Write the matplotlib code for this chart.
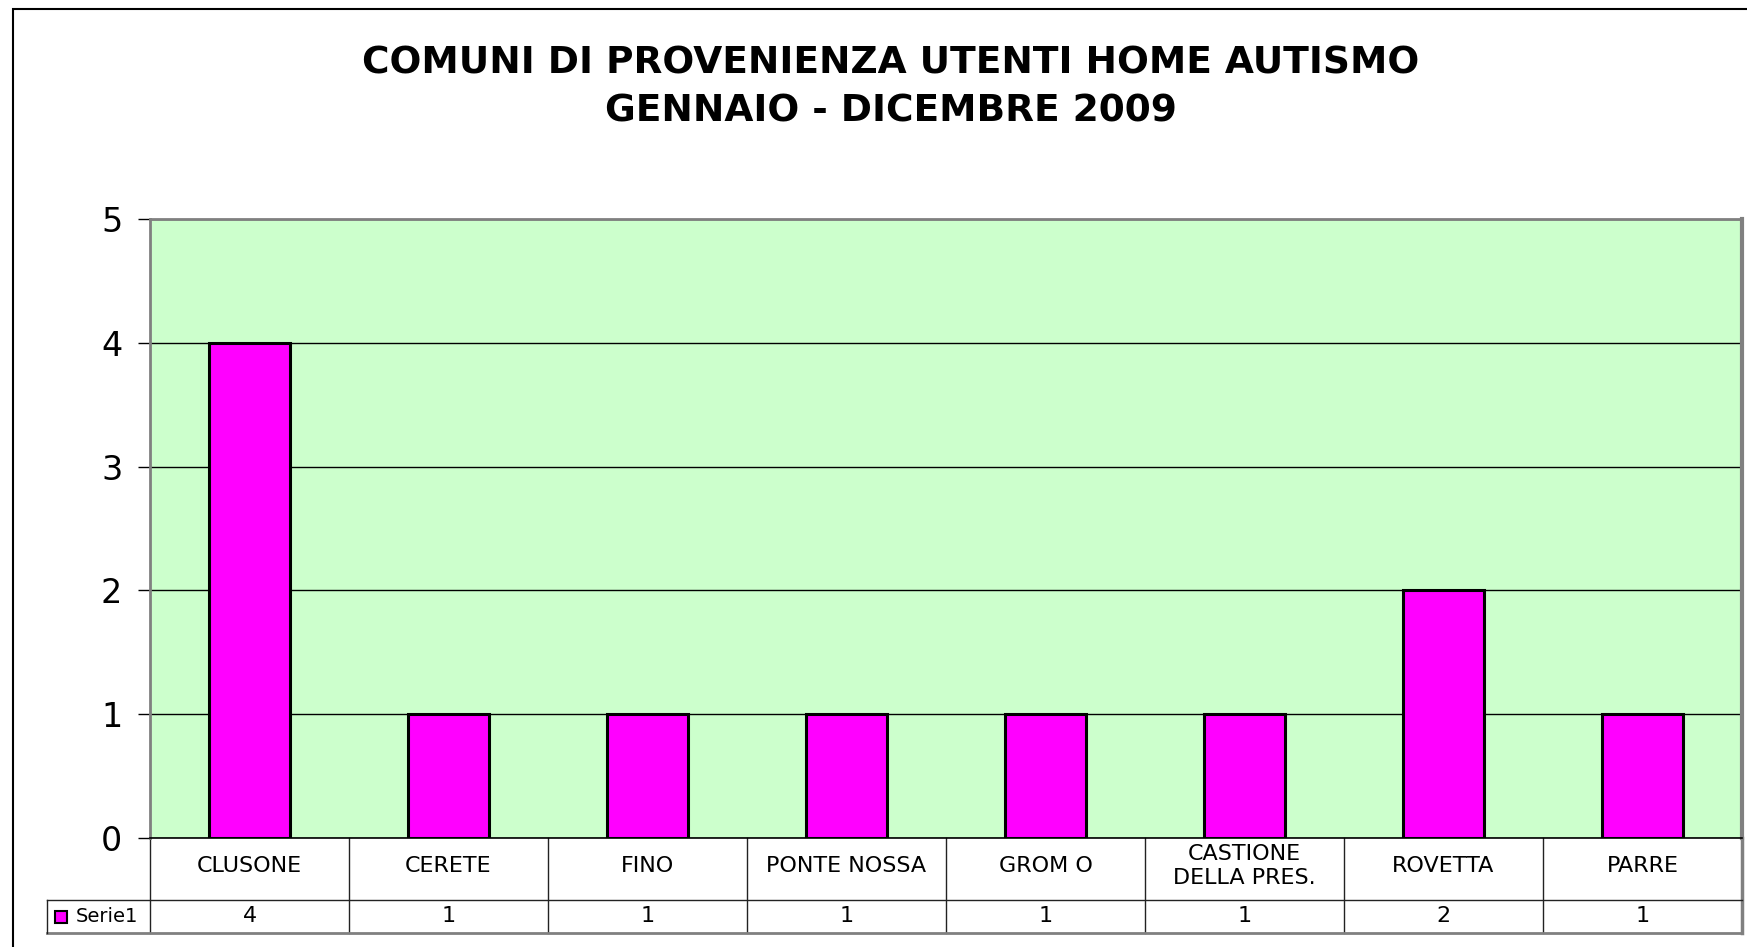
import matplotlib
matplotlib.use("Agg")
import matplotlib.pyplot as plt
from matplotlib.patches import Rectangle
import matplotlib.transforms as mtransforms

# ---- data ----
categories = ["CLUSONE", "CERETE", "FINO", "PONTE NOSSA", "GROM O",
              "CASTIONE\nDELLA PRES.", "ROVETTA", "PARRE"]
values = [4, 1, 1, 1, 1, 1, 2, 1]
series_name = "Serie1"
title_lines = ["COMUNI DI PROVENIENZA UTENTI HOME AUTISMO", "GENNAIO - DICEMBRE 2009"]
y_ticks = [0, 1, 2, 3, 4, 5]

plt.rcParams['font.family'] = ['DejaVu Sans']

W, H = 1747, 947
fig = plt.figure(figsize=(W / 100, H / 100), dpi=100)

# outer frame (clipped by the image at right/bottom)
fig.patches.append(Rectangle((13 / W, -0.1), 2.0, 1 - 9 / H + 0.1,
                             transform=fig.transFigure, fill=False,
                             edgecolor='black', linewidth=1.5))

# titles
fig.text(891 / W, 1 - 64 / H, title_lines[0], ha='center', va='center',
         fontsize=27, fontweight='bold')
fig.text(891 / W, 1 - 112 / H, title_lines[1], ha='center', va='center',
         fontsize=27, fontweight='bold')

left, right, top, bottom = 150, 1742, 219, 838
ax = fig.add_axes([left / W, 1 - bottom / H, (right - left) / W, (bottom - top) / H])
ax.set_facecolor('#CCFFCC')

x = list(range(len(categories)))
ax.bar(x, values, width=0.41, color='#FF00FF', edgecolor='black',
       linewidth=2.2, zorder=3)
ax.set_xlim(-0.5, len(categories) - 0.5)
ax.set_ylim(0, 5)
ax.set_yticks(y_ticks)
ax.set_yticklabels([str(t) for t in y_ticks])
ax.set_xticks([])
ax.tick_params(axis='y', length=9, width=1, pad=11, labelsize=24, color='black')
ax.set_axisbelow(True)
ax.yaxis.grid(True, color='black', linewidth=1)

for s in ['top', 'left']:
    ax.spines[s].set_color('#808080')
    ax.spines[s].set_linewidth(2)
ax.spines['right'].set_color('#808080')
ax.spines['right'].set_linewidth(3)
ax.spines['bottom'].set_color('black')
ax.spines['bottom'].set_linewidth(1.2)

# ---- data table below the plot ----
ph = bottom - top
pw = right - left
def ay(py):  # pixel y -> axes fraction
    return (bottom - py) / ph
def ax_(px):
    return (px - left) / pw

row1_bot = ay(900)
row2_bot = ay(933)
leg_left = ax_(47)

blend = mtransforms.blended_transform_factory(ax.transData, ax.transAxes)
line_kw = dict(color='#222222', linewidth=1, clip_on=False)

# vertical boundaries between categories
for i in range(len(categories) + 1):
    xb = i - 0.5
    c = '#808080' if i == len(categories) else '#222222'
    lw = 2.5 if i == len(categories) else 1
    ax.plot([xb, xb], [0, row2_bot], transform=blend, color=c,
            linewidth=lw, clip_on=False)

# horizontal lines
ax.plot([leg_left, 1], [row1_bot, row1_bot], transform=ax.transAxes, **line_kw)
ax.plot([leg_left, 1], [row2_bot, row2_bot], transform=ax.transAxes,
        color='#808080', linewidth=2, clip_on=False)
ax.plot([leg_left, leg_left], [row1_bot, row2_bot], transform=ax.transAxes, **line_kw)

# category labels and values
for i, (cat, v) in enumerate(zip(categories, values)):
    ax.text(i, ay(866), cat, transform=blend, ha='center',
            va='center', fontsize=16, linespacing=1.3, clip_on=False)
    ax.text(i, (row1_bot + row2_bot) / 2, str(v), transform=blend,
            ha='center', va='center', fontsize=16, clip_on=False)

# legend key in the table
mid2 = (row1_bot + row2_bot) / 2
ax.plot([ax_(61)], [mid2], marker='s', markersize=8.5, markerfacecolor='#FF00FF',
        markeredgecolor='black', markeredgewidth=1.5, transform=ax.transAxes,
        clip_on=False, linestyle='none')
ax.text(ax_(76), mid2, series_name, transform=ax.transAxes, ha='left',
        va='center', fontsize=14, clip_on=False)

fig.savefig('out.png', dpi=100)
